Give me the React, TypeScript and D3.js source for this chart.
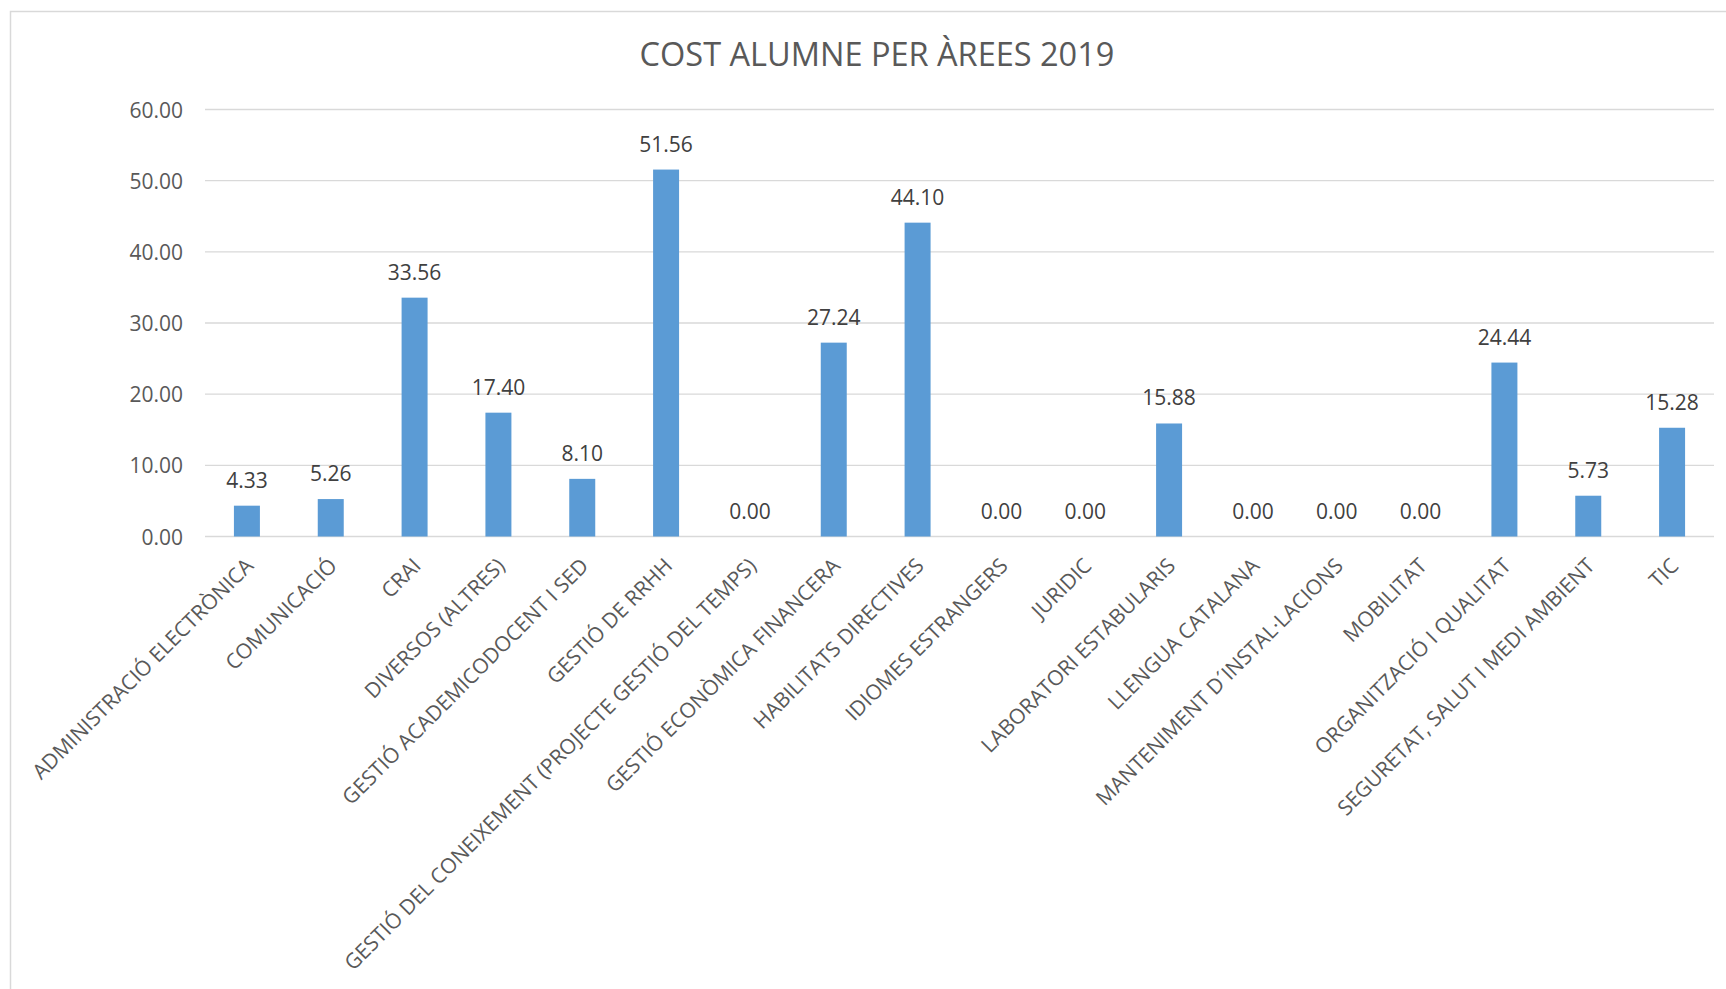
import * as d3 from 'd3';
import React from 'react';

const categories: string[] = [
  'ADMINISTRACIÓ ELECTRÒNICA',
  'COMUNICACIÓ',
  'CRAI',
  'DIVERSOS (ALTRES)',
  'GESTIÓ ACADEMICODOCENT I SED',
  'GESTIÓ DE RRHH',
  'GESTIÓ DEL CONEIXEMENT (PROJECTE GESTIÓ DEL TEMPS)',
  'GESTIÓ ECONÒMICA FINANCERA',
  'HABILITATS DIRECTIVES',
  'IDIOMES ESTRANGERS',
  'JURIDIC',
  'LABORATORI ESTABULARIS',
  'LLENGUA CATALANA',
  'MANTENIMENT D´INSTAL·LACIONS',
  'MOBILITAT',
  'ORGANITZACIÓ I QUALITAT',
  'SEGURETAT, SALUT I MEDI AMBIENT',
  'TIC',
];

const values: number[] = [
  4.33, 5.26, 33.56, 17.4, 8.1, 51.56, 0.0, 27.24, 44.1, 0.0, 0.0, 15.88, 0.0, 0.0, 0.0, 24.44, 5.73, 15.28,
];

const yTicks: number[] = [0, 10, 20, 30, 40, 50, 60];

const title = 'COST ALUMNE PER ÀREES 2019';

const W = 1726;
const H = 989;
const font = '"Open Sans", "Noto Sans", sans-serif';

export default function App() {
  const x = d3.scaleBand<string>()
    .domain(categories)
    .range([205, 1714])
    .paddingInner(0.69)
    .paddingOuter(0.345);

  const y = d3.scaleLinear()
    .domain([0, 60])
    .range([536.5, 109.5]);

  const fmt = d3.format('.2f');

  return (
    <div style={{position: 'absolute', left: 0, top: 0}}>
      <svg width={W} height={H} style={{display: 'block', fontFamily: font}}>
        <rect x={0} y={0} width={W} height={H} fill='#ffffff'/>
        {/* chart area border, right and bottom sides run off the picture */}
        <rect x={10.5} y={11.5} width={W + 20} height={H + 20} fill='none' stroke='#D9D9D9' strokeWidth={1.5}/>

        <text x={877} y={53} textAnchor='middle' dominantBaseline='central'
          fontSize={32.5} fill='#595959'>{title}</text>

        {yTicks.map(t => (
          <g key={t}>
            <line x1={205} x2={1714} y1={y(t)} y2={y(t)} stroke='#D9D9D9' strokeWidth={1.4}/>
            <text x={183} y={y(t)} textAnchor='end' dominantBaseline='central'
              fontSize={21} fill='#595959'>{fmt(t)}</text>
          </g>
        ))}

        {categories.map((c, i) => {
          const bx = x(c) as number;
          const cx = bx + x.bandwidth() / 2;
          const top = y(values[i]);
          return (
            <g key={c}>
              <rect x={bx} y={top} width={x.bandwidth()} height={y(0) - top} fill='#5B9BD5'/>
              <text x={cx} y={top - 26} textAnchor='middle' dominantBaseline='central'
                fontSize={21} fill='#404040'>{fmt(values[i])}</text>
              <text transform={`translate(${cx + 2},${y(0) + 25}) rotate(-45)`}
                textAnchor='end' dominantBaseline='central'
                fontSize={21} fill='#595959'>{c}</text>
            </g>
          );
        })}
      </svg>
    </div>
  );
}
